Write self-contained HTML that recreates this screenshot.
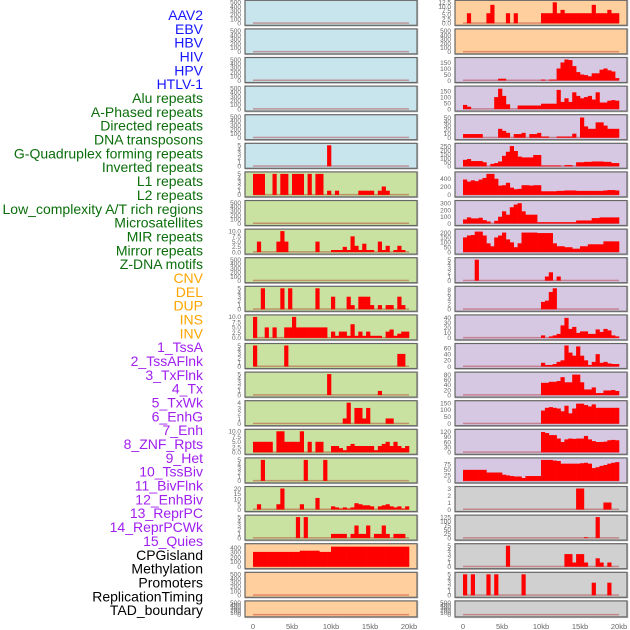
<!DOCTYPE html>
<html><head><meta charset="utf-8"><style>
html,body{margin:0;padding:0;background:#fff;width:630px;height:630px;overflow:hidden}
svg{display:block;font-family:"Liberation Sans",sans-serif}
</style></head><body>
<svg id="chart" width="630" height="630" viewBox="0 0 630 630" xmlns="http://www.w3.org/2000/svg"></svg>
<script>
const trackLabels = ["AAV2","EBV","HBV","HIV","HPV","HTLV-1","Alu repeats","A-Phased repeats","Directed repeats","DNA transposons","G-Quadruplex forming repeats","Inverted repeats","L1 repeats","L2 repeats","Low_complexity A/T rich regions","Microsatellites","MIR repeats","Mirror repeats","Z-DNA motifs","CNV","DEL","DUP","INS","INV","1_TssA","2_TssAFlnk","3_TxFlnk","4_Tx","5_TxWk","6_EnhG","7_Enh","8_ZNF_Rpts","9_Het","10_TssBiv","11_BivFlnk","12_EnhBiv","13_ReprPC","14_ReprPCWk","15_Quies","CPGisland","Methylation","Promoters","ReplicationTiming","TAD_boundary"];
const labelColors = ["#1515ff","#1515ff","#1515ff","#1515ff","#1515ff","#1515ff","#0b6e0b","#0b6e0b","#0b6e0b","#0b6e0b","#0b6e0b","#0b6e0b","#0b6e0b","#0b6e0b","#0b6e0b","#0b6e0b","#0b6e0b","#0b6e0b","#0b6e0b","#ffa500","#ffa500","#ffa500","#ffa500","#ffa500","#a020f0","#a020f0","#a020f0","#a020f0","#a020f0","#a020f0","#a020f0","#a020f0","#a020f0","#a020f0","#a020f0","#a020f0","#a020f0","#a020f0","#a020f0","#000","#000","#000","#000","#000"];
const xTickKb = [0,5,10,15,20];
const xTickLabels = ["0","5kb","10kb","15kb","20kb"];
const binKb = 0.5;
const T500 = [0,100,200,300,400,500];
const T5 = [0,1,2,3,4,5];
const T10 = [0,2.5,5,7.5,10];
const leftBg = ["#c8e4ec","#c8e4ec","#c8e4ec","#c8e4ec","#c8e4ec","#c8e4ec","#c9e2a2","#c9e2a2","#c9e2a2","#c9e2a2","#c9e2a2","#c9e2a2","#c9e2a2","#c9e2a2","#c9e2a2","#c9e2a2","#c9e2a2","#c9e2a2","#c9e2a2","#ffd09e","#ffd09e","#ffd09e"];
const rightBg = ["#ffd09e","#ffd09e","#d6c8e2","#d6c8e2","#d6c8e2","#d6c8e2","#d6c8e2","#d6c8e2","#d6c8e2","#d6c8e2","#d6c8e2","#d6c8e2","#d6c8e2","#d6c8e2","#d6c8e2","#d6c8e2","#d6c8e2","#d0d0d0","#d0d0d0","#d0d0d0","#d0d0d0","#d0d0d0"];
const leftTicks = [T500,T500,T500,T500,T500,T5,T5,T500,T10,T500,T5,T10,T5,T5,[0,1,2,3,4],T10,T5,[0,5,10,15,20],T5,[0,100,200,300,400],T500,T500];
const leftMax = [500,500,500,500,500,5,5,500,10,500,5,10,5,5,4,10,5,20,5,440,500,500];
const rightTicks = [[0,2.5,5,7.5,10,12.5],T500,[0,50,100,150],[0,50,100,150],[0,10,20,30,40,50],[0,50,100,150,200,250],[0,200,400],[0,100,200,300],[0,50,100,150,200],T5,[0,2,4,6,8],[0,10,20,30,40],[0,20,40,60],[0,20,40,60,80],[0,50,100,150],[0,30,60,90,120],[0,25,50,75],[0,1,2,3],[0,25,50,75,100,125],T5,T5,T500];
const rightMax = [12.5,500,175,175,52,260,520,310,215,5,8.5,42,68,82,152,122,95,3,125,5,5,500];
// bin values (bin = 0.5kb)
const L0 = {}, L1 = {}, L2 = {}, L3 = {}, L4 = {};
const L5 = {19:5};
const L6 = [5,5,5,0,0,5,0,5,5,0,5,5,5,0,5,0,5,5,0,1,0,1,0,0,0,0,0,1,1,1,1,0,1,2,1,0,0,0,0,0];
const L7 = {};
const L8 = [0,5,0,0,0,0,5,10,5,0,0,0,0,0,0,0,5,0,0,0,1,1,1,2.5,1,7.5,3,1,4,1,1,0,5,1,3,0,1,3,1,0];
const L9 = {};
const L10 = [0,0,5,0,0,0,0,5,0,5,0,0,0,0,0,0,5,0,0,0,3,0,0,0,3,1,0,3,3,3,1,0,1,0,1,1,0,3,1,0];
const L11 = [10,0,0,5,0,5,0,0,5,5,10,5,5,5,5,5,5,5,5,0,3,1,3,3,1,6.5,1,3,1,3,1,1,1,0,3,4,1,2,3,3];
const L12 = {0:5,8:5,37:3,38:3};
const L13 = {19:5,32:1};
const L14 = {23:1,24:4,26:3,27:3,28:1,29:3,34:1,35:1};
const L15 = [5,5,5,5,5,0,10,10,5,5,5,5,10,0,5,0,5,5,0,0,3,3,2,1,3,4,3,3,3,3,3,1,3,4,5,3,5,3,2,3];
const L16 = {2:5,13:5,18:5};
const L17 = [0,5,0,0,0,0,5,20,0,0,0,0,5,0,0,0,11,0,0,0,3,2,1,2,1,2,6,5,4,4,3,0,3,4,5,3,2,3,1,3];
const L18 = {11:5,13:5,20:1,21:1,22:1,23:1,25:1,26:3,27:1,28:1,29:3,31:1,32:1,33:3,34:1,36:1,37:1,38:1};
const L19 = [310,310,310,310,310,310,310,310,310,310,310,310,335,335,335,335,335,310,310,310,420,420,420,420,420,420,420,420,420,420,420,420,420,420,420,420,420,420,420,420];
const L20 = {}, L21 = {};
const R0 = [0,6,0,0,0,0,6,11,0,0,0,6,0,6,0,0,0,0,0,0,6,6,6,12.5,6,8,6,6,6,6,6,6,6,11,6,6,6,8,6,6];
const R1 = {};
const R2 = [0,0,0,0,0,0,0,0,0,15,15,0,0,0,0,0,0,0,0,0,8,0,8,8,100,150,175,170,120,70,50,45,35,60,60,90,100,85,75,20];
const R3 = [35,20,0,0,0,0,0,0,100,170,110,40,0,0,30,30,30,30,30,30,45,45,45,45,160,60,90,60,140,110,90,100,110,80,140,55,55,70,75,70];
const R4 = [9,9,9,9,9,0,0,0,0,22,17,12,0,9,9,12,0,9,9,12,3,3,0,0,3,3,3,3,10,0,50,28,22,22,38,38,30,22,22,22];
const R5 = [80,90,65,65,65,50,0,30,40,60,130,180,250,190,120,110,110,110,140,140,10,10,10,10,10,0,15,15,0,50,50,55,55,60,60,60,55,55,40,40];
const R6 = [380,330,360,340,380,420,520,520,400,230,240,300,180,140,150,240,240,230,240,240,90,90,90,90,100,100,110,110,110,100,100,100,100,100,100,100,110,120,120,110];
const R7 = [60,90,75,75,85,50,30,0,40,100,180,130,240,280,300,180,130,130,130,20,20,20,20,20,20,20,20,20,20,45,45,45,45,80,80,90,90,90,90,90];
const R8 = [150,170,175,210,210,170,90,60,150,170,200,130,100,50,90,200,200,200,200,195,195,195,195,90,60,60,50,50,35,35,60,60,80,80,80,80,110,110,110,110];
const R9 = {3:5,21:1,22:2,24:1};
const R10 = {20:3,21:3.5,22:7,23:8.5};
const R11 = {20:5,22:3,23:5,24:8,25:25,26:40,27:18,28:22,29:10,30:13,31:13,32:8,33:8,34:17,35:12,36:18,37:15,38:5,39:3};
const R12 = {20:12,21:5,22:5,23:8,24:15,25:20,26:68,27:45,28:35,29:65,30:35,31:20,32:5,33:15,34:40,35:12,36:15,37:10,38:8,39:8};
const R13 = {20:48,21:48,22:52,23:52,24:55,25:70,26:50,27:50,28:80,29:80,30:50,31:22,32:22,33:30,34:8,35:8,36:18,37:18,38:20,39:16};
const R14 = {20:95,21:115,22:120,23:115,24:110,25:90,26:130,27:75,28:110,29:145,30:145,31:135,32:125,33:140,34:115,35:115,36:115,37:115,38:115,39:115};
const R15 = {20:118,21:112,22:100,23:100,24:80,25:60,26:75,27:80,28:78,29:80,30:80,31:95,32:75,33:65,34:60,35:60,36:62,37:70,38:72,39:70};
const R16 = [50,50,50,50,50,50,38,38,38,38,28,25,22,20,20,13,22,22,22,22,95,95,95,92,90,78,78,78,78,78,80,82,78,58,62,68,72,78,82,85];
const R17 = {29:3,30:3,36:1,37:1};
const R18 = {31:5,34:125};
const R19 = {11:5,26:3,27:3,28:1,29:3,30:3,31:1,34:2,35:1,37:1};
const R20 = {0:5,2:5,6:5,8:5,15:5,33:3,37:3};
const R21 = {};
const leftData = [L0,L1,L2,L3,L4,L5,L6,L7,L8,L9,L10,L11,L12,L13,L14,L15,L16,L17,L18,L19,L20,L21];
const rightData = [R0,R1,R2,R3,R4,R5,R6,R7,R8,R9,R10,R11,R12,R13,R14,R15,R16,R17,R18,R19,R20,R21];

const NS = "http://www.w3.org/2000/svg";
const svg = document.getElementById("chart");
function mk(tag, attrs, parent){const e=document.createElementNS(NS,tag);for(const k in attrs)e.setAttribute(k,attrs[k]);(parent||svg).appendChild(e);return e;}
function rowTop(i){return 0.3+28.6*i;}
function rowH(i){return i===21?16:25;}
function xScale(kb, x0){return x0 + kb*7.8;}

trackLabels.forEach((t,i)=>{
  const el = mk("text",{x:203,y:15+i*13.84+5,"text-anchor":"end","font-size":"14",fill:labelColors[i]});
  el.textContent = t;
  
  
});

function drawColumn(side, px, x0, bgs, ticks, maxes, data){
  for(let i=0;i<22;i++){
    const T=rowTop(i), H=rowH(i);
    const g = mk("g",{});
    
    
    const clipId = side+"clip"+i;
    const cp = mk("clipPath",{id:clipId},g);
    mk("rect",{x:px,y:T,width:172,height:H},cp);
    mk("rect",{x:px+0.5,y:T+0.5,width:172,height:H,fill:"none",stroke:"#bbb","stroke-width":1.5},g);
    mk("rect",{x:px,y:T,width:172,height:H,fill:bgs[i]},g);
    const z = T+H-2, span = H-4;
    const yS = v => z - v/maxes[i]*span;
    mk("rect",{x:xScale(0,x0),y:z-1,width:xScale(20,x0)-xScale(0,x0),height:1.5,fill:"rgba(170,0,0,0.35)"},g);
    const bars = mk("g",{"clip-path":"url(#"+clipId+")"},g);
    Object.entries(data[i]).forEach(([b,v])=>{
      if(!v) return;
      const xa = xScale(+b*binKb,x0), xb = xScale((+b+1)*binKb,x0);
      const r = mk("rect",{x:xa,y:yS(v),width:xb-xa+0.3,height:z-yS(v),fill:"#ff0000"},bars);
      
      
    });
    mk("rect",{x:px,y:T,width:172,height:H,fill:"none",stroke:"#666","stroke-width":1.2},g);
    ticks[i].forEach(tv=>{
      const tt = mk("text",{x:px-4,y:yS(tv)+2.3,"text-anchor":"end","font-size":"6.5",fill:"#666"},g);
      tt.textContent = String(tv%1? tv.toFixed(1) : (maxes[i]<=12.5 && ticks[i].some(q=>q%1)? tv.toFixed(1): tv));
      
      
    });
  }
  xTickKb.forEach((k,j)=>{
    const t = mk("text",{x:xScale(k,x0),y:629,"text-anchor":"middle","font-size":"7.5",fill:"#666"});
    t.textContent = xTickLabels[j];
    
    
  });
}
drawColumn("left",245,253,leftBg,leftTicks,leftMax,leftData);
drawColumn("right",455,463,rightBg,rightTicks,rightMax,rightData);
</script>
</body></html>
